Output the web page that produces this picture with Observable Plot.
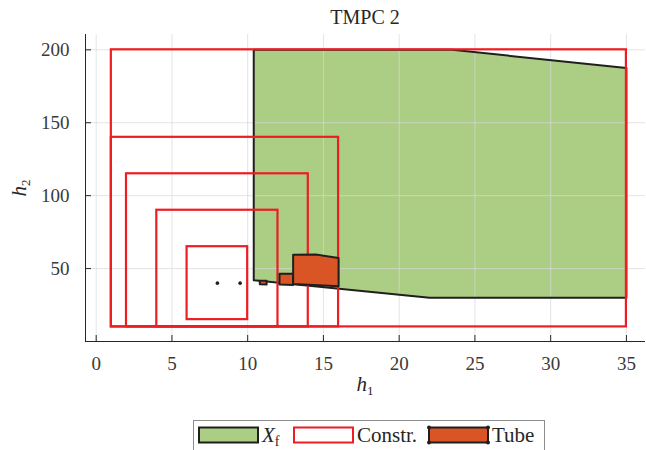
<!DOCTYPE html>
<html><head><meta charset="utf-8">
<script src="https://cdn.jsdelivr.net/npm/d3@7"></script>
<script src="https://cdn.jsdelivr.net/npm/@observablehq/plot@0.6"></script>
<style>
body{margin:0;background:#fff;}
#wrap{position:relative;width:646px;height:450px;overflow:hidden;font-family:"Liberation Serif",serif;color:#262626;background:#fff;}
#wrap svg{position:absolute;left:0;top:0;}
#wrap svg text, #wrap svg tspan{font-family:"Liberation Serif",serif !important;}
.title{position:absolute;left:85px;width:560px;top:6px;text-align:center;font-size:20px;line-height:22px;}
.xlab{position:absolute;left:85px;width:560px;top:373px;text-align:center;font-size:21px;line-height:22px;}
.ylab{position:absolute;left:-21px;top:177px;width:80px;text-align:center;font-size:21px;line-height:22px;transform:rotate(-90deg);}
sub{font-size:13px;font-style:normal;vertical-align:-4px;line-height:0;}
</style></head><body><div id="wrap"></div>
<script>
// ---- data ----
const xTicks = [0, 5, 10, 15, 20, 25, 30, 35];
const yTicks = [50, 100, 150, 200];
const xfX = [10.4, 23.5, 35, 35, 22, 10.4];
const xfY = [200, 200, 187.5, 30, 30, 42];
const consX1 = [1, 1, 2, 4, 6];
const consX2 = [35, 16, 14, 12, 10];
const consY1 = [10, 10, 10, 10, 15];
const consY2 = [200, 140, 115, 90, 65];
const tubeX = [[10.8, 10.8, 11.25, 11.25], [12.1, 12.1, 13, 13], [13, 13, 14.5, 16, 16]];
const tubeY = [[39.3, 41.6, 41.6, 39], [39, 46.4, 46.4, 38.8], [39.4, 59.4, 59.6, 57.2, 37.9]];
const ptX = [8, 9.5];
const ptY = [40, 40];
const xDomain = [-0.706, 36.26];
const yDomain = [0, 210.5];

// ---- build ----
const closed = (xs, ys, id) => xs.map((x, i) => ({x, y: ys[i], id})).concat([{x: xs[0], y: ys[0], id}]);
const xfPts = closed(xfX, xfY, 0);
const tubePts = tubeX.flatMap((xs, k) => closed(xs, tubeY[k], k));
const cons = consX1.map((x1, i) => ({x1, x2: consX2[i], y1: consY1[i], y2: consY2[i]}));
const pts = ptX.map((x, i) => ({x, y: ptY[i]}));

const W = 646, H = 400, mT = 34, mB = 59, mL = 85, mR = 1;
const fh = H - mT - mB, fw = W - mL - mR;
const axisColor = "#262626";
const tickText = "#3a3a3a";
const red = "#ee1d23";
const serif = "'Liberation Serif', serif";

const chart = Plot.plot({
  width: W, height: H,
  marginTop: mT, marginBottom: mB, marginLeft: mL, marginRight: mR,
  x: {domain: xDomain, axis: null},
  y: {domain: yDomain, axis: null},
  style: {fontFamily: serif, background: "transparent", overflow: "visible"},
  marks: [
    Plot.line(xfPts, {x: "x", y: "y", z: "id", fill: "#acce84", stroke: "none"}),
    Plot.gridX(xTicks, {stroke: "#d8d8d8", strokeOpacity: 0.7, strokeWidth: 1}),
    Plot.gridY(yTicks, {stroke: "#d8d8d8", strokeOpacity: 0.7, strokeWidth: 1}),
    Plot.line(xfPts, {x: "x", y: "y", z: "id", stroke: "#1f1f1f", strokeWidth: 2, strokeLinejoin: "round"}),
    Plot.rect(cons, {x1: "x1", x2: "x2", y1: "y1", y2: "y2", fill: "none", stroke: red, strokeWidth: 2.2}),
    Plot.line(tubePts, {x: "x", y: "y", z: "id", fill: "#d95525", stroke: "#1f1f1f", strokeWidth: 2, strokeLinejoin: "round"}),
    Plot.dot(pts, {x: "x", y: "y", r: 1.8, fill: "#1f1f1f", stroke: "none"}),
    // axes
    Plot.ruleY([yDomain[0]], {stroke: axisColor, strokeWidth: 1}),
    Plot.ruleX([xDomain[0]], {stroke: axisColor, strokeWidth: 1}),
    Plot.ruleX(xTicks, {x: d => d, insetTop: fh - 6, stroke: axisColor, strokeWidth: 1}),
    Plot.ruleY(yTicks, {y: d => d, insetRight: fw - 6, stroke: axisColor, strokeWidth: 1}),
    Plot.text(xTicks, {x: d => d, frameAnchor: "bottom", dy: 22, lineAnchor: "middle", fontSize: 19, fontFamily: serif, fill: tickText}),
    Plot.text(yTicks, {y: d => d, frameAnchor: "left", dx: -16, textAnchor: "end", lineAnchor: "middle", fontSize: 19, fontFamily: serif, fill: tickText})
  ]
});
const wrap = document.getElementById("wrap");
wrap.appendChild(chart);

wrap.insertAdjacentHTML("beforeend",
  `<div class="title">TMPC 2</div>
   <div class="xlab"><i>h</i><sub>1</sub></div>
   <div class="ylab"><i>h</i><sub>2</sub></div>`);

// ---- legend ----
const leg = d3.select(wrap).append("svg").attr("width", W).attr("height", 450)
  .style("font-family", serif);
leg.append("rect").attr("x", 193.5).attr("y", 420.5).attr("width", 351).attr("height", 40)
  .attr("fill", "#fff").attr("stroke", "#8c8c8c").attr("stroke-width", 1);
const sw = [
  {x: 198, fill: "#acce84", stroke: "#1f1f1f", label: "X", sub: "f", tx: 262, dots: false},
  {x: 293, fill: "#fff", stroke: red, label: "Constr.", sub: null, tx: 357, dots: false},
  {x: 428, fill: "#d95525", stroke: "#1f1f1f", label: "Tube", sub: null, tx: 492, dots: true}
];
sw.forEach(s => {
  leg.append("rect").attr("x", s.x + 1).attr("y", 427.5).attr("width", 59).attr("height", 15)
    .attr("fill", s.fill).attr("stroke", s.stroke).attr("stroke-width", 2);
  if (s.dots) {
    [[s.x + 1, 427.5], [s.x + 60, 427.5], [s.x + 1, 442.5], [s.x + 60, 442.5]].forEach(([cx, cy]) =>
      leg.append("circle").attr("cx", cx).attr("cy", cy).attr("r", 2).attr("fill", "#1f1f1f"));
  }
  const t = leg.append("text").attr("x", s.tx).attr("y", 442).attr("font-size", 21).attr("fill", "#262626");
  if (s.sub) {
    t.append("tspan").attr("font-style", "italic").text(s.label);
    t.append("tspan").attr("font-size", 14).attr("dy", 4).text(s.sub);
  } else {
    t.text(s.label);
  }
});
</script></body></html>
